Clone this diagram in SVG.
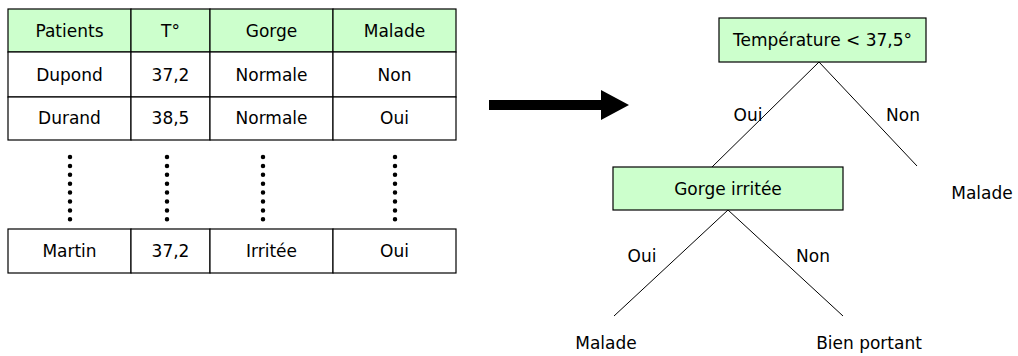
<svg xmlns="http://www.w3.org/2000/svg" width="1018" height="356" viewBox="0 0 1018 356">
  <defs>
    <style>
      text { font-family: "DejaVu Sans", "Liberation Sans", sans-serif; font-size: 17px; fill: #000; text-anchor: middle; dominant-baseline: central; }
      .cell { fill: #fff; stroke: #000; stroke-width: 1.2; }
      .head { fill: #ccffcc; stroke: #000; stroke-width: 1.2; }
      .node { fill: #ccffcc; stroke: #000; stroke-width: 1.2; }
      .edge { stroke: #000; stroke-width: 1; fill: none; }
      .dots { stroke: #000; stroke-width: 4.5; stroke-linecap: round; stroke-dasharray: 0 8.9; fill: none; }
    </style>
  </defs>
  <rect width="1018" height="356" fill="#fff"/>

  <!-- data table -->
  <g id="table">
    <rect class="head" x="8" y="9" width="123" height="43"/>
    <rect class="head" x="131" y="9" width="79" height="43"/>
    <rect class="head" x="210" y="9" width="123" height="43"/>
    <rect class="head" x="333" y="9" width="123" height="43"/>
    <text x="69.5" y="31">Patients</text>
    <text x="170.5" y="31">T°</text>
    <text x="271.5" y="31">Gorge</text>
    <text x="394.5" y="31">Malade</text>

    <rect class="cell" x="8" y="52" width="123" height="45"/>
    <rect class="cell" x="131" y="52" width="79" height="45"/>
    <rect class="cell" x="210" y="52" width="123" height="45"/>
    <rect class="cell" x="333" y="52" width="123" height="45"/>
    <text x="69.5" y="75">Dupond</text>
    <text x="170.5" y="75">37,2</text>
    <text x="271.5" y="75">Normale</text>
    <text x="394.5" y="75">Non</text>

    <rect class="cell" x="8" y="97" width="123" height="43"/>
    <rect class="cell" x="131" y="97" width="79" height="43"/>
    <rect class="cell" x="210" y="97" width="123" height="43"/>
    <rect class="cell" x="333" y="97" width="123" height="43"/>
    <text x="69.5" y="118">Durand</text>
    <text x="170.5" y="118">38,5</text>
    <text x="271.5" y="118">Normale</text>
    <text x="394.5" y="118">Oui</text>

    <!-- elided rows -->
    <path class="dots" d="M70 157V220 M167 157V220 M263 157V220 M395 157V220"/>

    <rect class="cell" x="8" y="229" width="123" height="44"/>
    <rect class="cell" x="131" y="229" width="79" height="44"/>
    <rect class="cell" x="210" y="229" width="123" height="44"/>
    <rect class="cell" x="333" y="229" width="123" height="44"/>
    <text x="69.5" y="251">Martin</text>
    <text x="170.5" y="251">37,2</text>
    <text x="271.5" y="251">Irritée</text>
    <text x="394.5" y="251">Oui</text>
  </g>

  <!-- big transition arrow -->
  <g id="arrow">
    <polygon points="489,100 601,100 601,90 629,105 601,120 601,110 489,110" fill="#000"/>
  </g>

  <!-- tree edges -->
  <g id="connectors">
    <line class="edge" x1="819" y1="62" x2="712" y2="167"/>
    <line class="edge" x1="819" y1="62" x2="917" y2="166"/>
    <line class="edge" x1="728" y1="210" x2="614" y2="316"/>
    <line class="edge" x1="728" y1="210" x2="843" y2="316"/>
    <text x="748" y="115">Oui</text>
    <text x="903" y="115">Non</text>
    <text x="642" y="256">Oui</text>
    <text x="813" y="256">Non</text>
  </g>

  <g id="root">
    <rect class="node" x="719" y="18" width="207" height="44"/>
    <text x="822.5" y="40">Température &lt; 37,5°</text>
  </g>

  <g id="gorge">
    <rect class="node" x="613" y="167" width="230" height="43"/>
    <text x="728" y="189">Gorge irritée</text>
  </g>

  <g id="leaf-malade-1">
    <text x="982" y="193">Malade</text>
  </g>

  <g id="leaf-malade-2">
    <text x="606" y="343">Malade</text>
  </g>

  <g id="leaf-bien-portant">
    <text x="869" y="343">Bien portant</text>
  </g>
</svg>
